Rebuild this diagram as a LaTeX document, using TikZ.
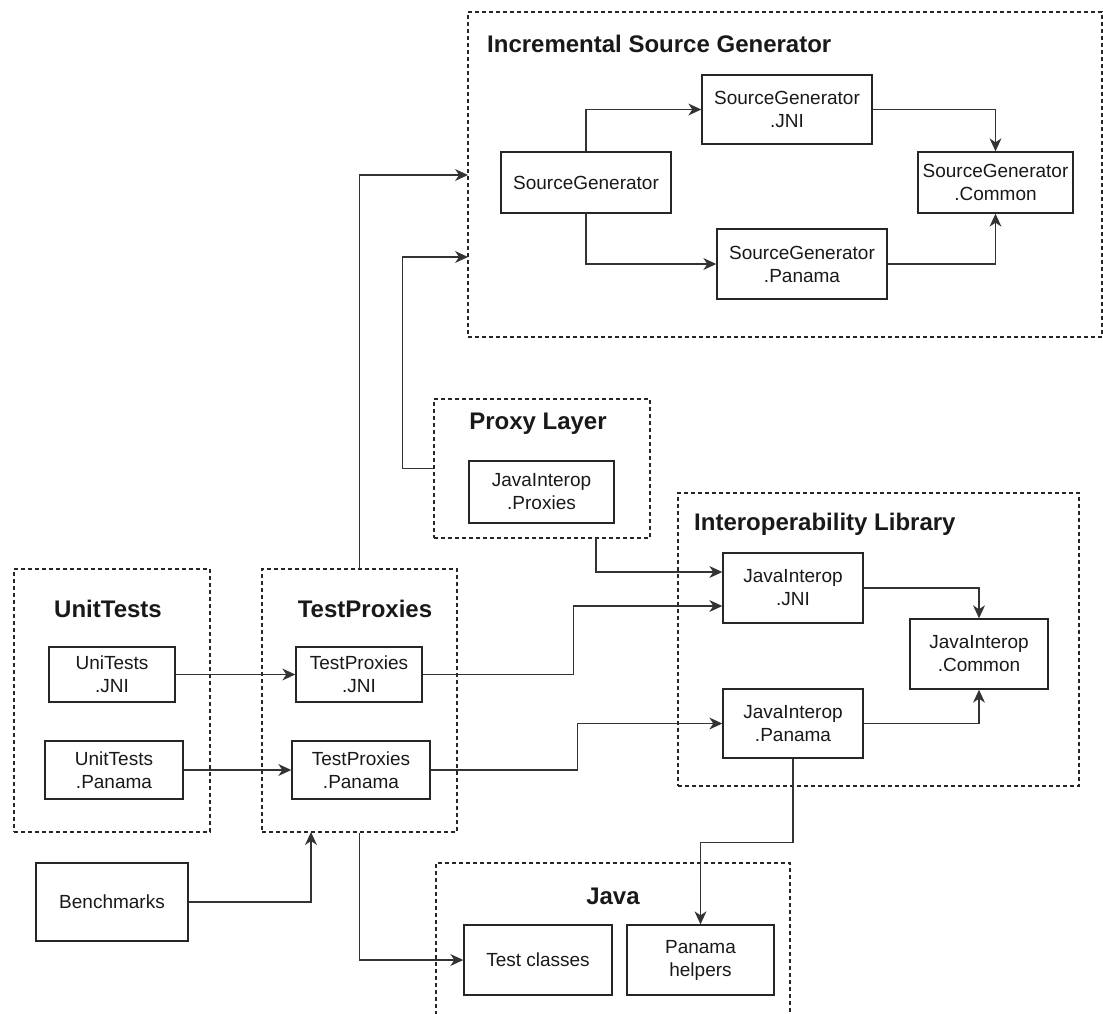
\documentclass[tikz,border=0pt]{standalone}
\usepackage{fontspec}
\setmainfont{Liberation Sans}
\usetikzlibrary{arrows.meta,calc}
\begin{document}
\begin{tikzpicture}[x=1pt,y=-1pt,
  box/.style={draw=black!85, line width=1.4pt, align=center, inner sep=0pt,
    font=\fontsize{19}{23}\selectfont, text=black!90},
  grp/.style={draw=black!85, line width=1.1pt, dash pattern=on 4pt off 3pt, inner sep=0pt},
  gtitle/.style={font=\fontsize{24}{28}\selectfont\bfseries, inner sep=0pt, text=black!90},
  tip/.tip={Stealth[length=13pt,width=12pt,inset=4pt,line width=0pt]},
  link/.style={draw=black!80, line width=1.5pt, -tip},
  wire/.style={draw=black!80, line width=1.5pt}]
\useasboundingbox (0,0) rectangle (1103,1013);
\clip (0,0) rectangle (1103,1013);

% group frames
\node[grp, minimum width=634pt, minimum height=325pt] (isg) at (785,174.5) {};
\node[grp, minimum width=216pt, minimum height=139pt] (pxg) at (542,468.5) {};
\node[grp, minimum width=401pt, minimum height=293pt] (jig) at (878.5,639.5) {};
\node[grp, minimum width=196pt, minimum height=263pt] (utg) at (112,700.5) {};
\node[grp, minimum width=195pt, minimum height=263pt] (tpg) at (359.5,700.5) {};
\node[grp, minimum width=354pt, minimum height=180pt] (jvg) at (613,953) {};

% group titles
\node[gtitle, anchor=west] (isgt) at (487,44) {Incremental Source Generator};
\node[gtitle] (pxgt) at (538,424) {Proxy Layer};
\node[gtitle, anchor=west] (jigt) at (694,524) {Interoperability Library};
\node[gtitle] (utgt) at (108,609) {UnitTests};
\node[gtitle] (tpgt) at (365,609) {TestProxies};
\node[gtitle] (jvgt) at (613,896) {Java};

% incremental source generator
\node[box, minimum width=170pt, minimum height=61pt] (sg) at (586,182.5) {SourceGenerator};
\node[box, minimum width=170pt, minimum height=69pt] (sgjni) at (787,109.5) {SourceGenerator\\.JNI};
\node[box, minimum width=155pt, minimum height=61pt] (sgcom) at (995.5,182.5) {SourceGenerator\\.Common};
\node[box, minimum width=170pt, minimum height=70pt] (sgpan) at (802,264) {SourceGenerator\\.Panama};

% proxy layer
\node[box, minimum width=145pt, minimum height=62pt] (jiprox) at (541.5,492) {JavaInterop\\.Proxies};

% interoperability library
\node[box, minimum width=140pt, minimum height=70pt] (jijni) at (793,588) {JavaInterop\\.JNI};
\node[box, minimum width=138pt, minimum height=70pt] (jicom) at (979,654) {JavaInterop\\.Common};
\node[box, minimum width=140pt, minimum height=69pt] (jipan) at (793,723.5) {JavaInterop\\.Panama};

% unit tests and test proxies
\node[box, minimum width=126pt, minimum height=55pt] (utjni) at (112,674.5) {UniTests\\.JNI};
\node[box, minimum width=138pt, minimum height=58pt] (utpan) at (114,770) {UnitTests\\.Panama};
\node[box, minimum width=126pt, minimum height=55pt] (tpjni) at (359,674.5) {TestProxies\\.JNI};
\node[box, minimum width=138pt, minimum height=58pt] (tppan) at (361,770) {TestProxies\\.Panama};

% benchmarks
\node[box, minimum width=152pt, minimum height=78pt] (bench) at (112,902) {Benchmarks};

% java
\node[box, minimum width=148pt, minimum height=70pt] (testcls) at (538,960) {Test classes};
\node[box, minimum width=147pt, minimum height=70pt] (panhelp) at (700.5,960) {Panama\\helpers};

% entry points on frames
\coordinate (isgin1) at (468,175);
\coordinate (isgin2) at (468,257);
\coordinate (pxout) at (596,538);
\coordinate (tpin) at (311,832);

% connectors inside the source generator
\draw[link] (sg.north) |- (sgjni.west);
\draw[link] (sg.south) |- (sgpan.west);
\draw[link] (sgjni.east) -| (sgcom.north);
\draw[link] (sgpan.east) -| (sgcom.south);

% connectors into the source generator
\draw[link] (tpg.north) |- (isgin1);
\draw[link] (pxg.west) -- ++(-31,0) |- (isgin2);

% interoperability library
\draw[link] (pxout) |- ($(jijni.west)+(0,-16)$);
\draw[link] (tpjni.east) -- ++(151,0) |- ($(jijni.west)+(0,18)$);
\draw[link] (tppan.east) -- ++(147,0) |- (jipan.west);
\draw[link] (jijni.east) -| (jicom.north);
\draw[link] (jipan.east) -| (jicom.south);
\draw[link] (jipan.south) -- ++(0,84) -| (panhelp.north);

% tests
\draw[link] (utjni.east) -- (tpjni.west);
\draw[link] (utpan.east) -- (tppan.west);
\draw[link] (bench.east) -| (tpin);
\draw[link] (tpg.south) |- (testcls.west);
\end{tikzpicture}
\end{document}
